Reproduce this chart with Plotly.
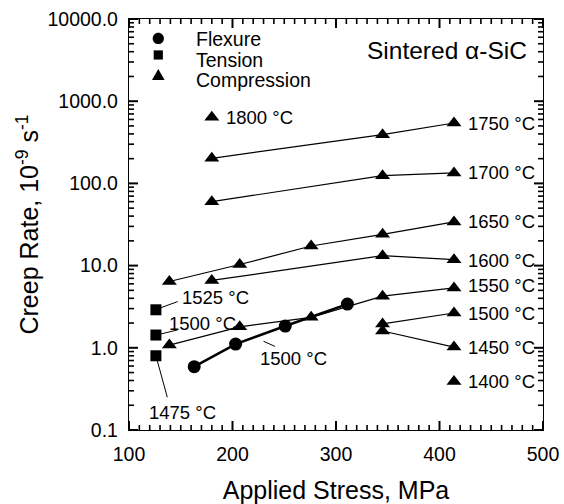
import math
import plotly.graph_objects as go

# ---------------- data ----------------
flex_x = [163, 203, 251, 311]
flex_y = [0.59, 1.11, 1.84, 3.4]

tension_x = [126, 126, 126]
tension_y = [2.9, 1.43, 0.8]
tension_labels = ["1525 °C", "1500 °C", "1475 °C"]

comp_temps = ["1800 °C", "1750 °C", "1700 °C", "1650 °C", "1600 °C",
              "1550 °C", "1500 °C", "1450 °C", "1400 °C"]
c1800_x, c1800_y = [180], [640]
c1750_x, c1750_y = [180, 345, 414], [202, 392, 543]
c1700_x, c1700_y = [180, 345, 414], [60, 124, 134]
c1650_x, c1650_y = [139, 207, 276, 345, 414], [6.4, 10.3, 17.3, 24, 34]
c1600_x, c1600_y = [180, 345, 414], [6.6, 13.2, 11.8]
c1550_x, c1550_y = [139, 207, 276, 345, 414], [1.08, 1.8, 2.35, 4.25, 5.35]
c1500_x, c1500_y = [345, 414], [1.95, 2.65]
c1450_x, c1450_y = [345, 414], [1.6, 1.02]
c1400_x, c1400_y = [414], [0.39]

y_tickvals = [0.1, 1, 10, 100, 1000, 10000]
y_ticktext = ["0.1", "1.0", "10.0", "100.0", "1000.0", "10000.0"]
x_tickvals = [100, 200, 300, 400, 500]
x_ticktext = ["100", "200", "300", "400", "500"]

legend_names = ["Flexure", "Tension", "Compression"]

FONT = "Liberation Sans, Arial, sans-serif"
BLACK = "black"
X_RANGE = [100, 500]
Y_RANGE_LOG = [-1, 4]

# minor tick positions (axis decoration)
x_minor = [v for v in range(100, 501, 10) if v % 100]
y_minor = [m * 10 ** e for e in range(-1, 4) for m in range(2, 10)]

fig = go.Figure()

comp_series = [
    (c1800_x, c1800_y), (c1750_x, c1750_y), (c1700_x, c1700_y),
    (c1650_x, c1650_y), (c1600_x, c1600_y), (c1550_x, c1550_y),
    (c1500_x, c1500_y), (c1450_x, c1450_y), (c1400_x, c1400_y),
]
for (xs, ys), name in zip(comp_series, comp_temps):
    fig.add_trace(go.Scatter(
        x=xs, y=ys, mode="lines+markers", name=name, showlegend=False,
        line=dict(color=BLACK, width=1.2),
        marker=dict(symbol="triangle-up", size=13, color=BLACK),
    ))

fig.add_trace(go.Scatter(
    x=flex_x, y=flex_y, mode="lines+markers", name="Flexure 1500 °C",
    showlegend=False, line=dict(color=BLACK, width=2.6),
    marker=dict(symbol="circle", size=13, color=BLACK),
))
fig.add_trace(go.Scatter(
    x=tension_x, y=tension_y, mode="markers", name="Tension",
    showlegend=False, marker=dict(symbol="square", size=11, color=BLACK),
))

ann = []
def label(text, x, y, size=18.5, xanchor="left"):
    ann.append(dict(text=text, x=x, y=math.log10(y), xref="x", yref="y",
                    showarrow=False, xanchor=xanchor, yanchor="middle",
                    font=dict(family=FONT, size=size, color=BLACK)))

# temperature labels for compression series
label(comp_temps[0], 192, 640)
right_y = [543, 134, 34, 11.5, 5.75, 2.65, 1.02, 0.39]
for t, yv in zip(comp_temps[1:], right_y):
    label(t, 426, yv)

# tension labels
label(tension_labels[0], 149, 4.1)
label(tension_labels[1], 137, 1.98)
label(tension_labels[2], 117.5, 0.165)
# flexure label
label("1500 °C", 225, 0.75)

# legend key text
leg_y_text = [5700, 3150, 1800]
for n, yv in zip(legend_names, leg_y_text):
    label(n, 163, yv, size=19.5)

label("Sintered α-SiC", 486.5, 4100, size=24.5, xanchor="right")

fig.update_layout(annotations=ann)

shapes = []
# legend key symbols (pixel-sized path shapes anchored in the plot)
key_x = 128.3
circle_path = ("M 5.6 0 C 5.6 3.1 3.1 5.6 0 5.6 C -3.1 5.6 -5.6 3.1 -5.6 0 "
               "C -5.6 -3.1 -3.1 -5.6 0 -5.6 C 3.1 -5.6 5.6 -3.1 5.6 0 Z")
square_path = "M -4.6 -4.6 L 4.6 -4.6 L 4.6 4.6 L -4.6 4.6 Z"
tri_path = "M -6.3 -4.5 L 6.3 -4.5 L 0 6.5 Z"
for pth, ya in [(circle_path, 5800), (square_path, 3650), (tri_path, 2050)]:
    shapes.append(dict(type="path", xref="x", yref="y", xsizemode="pixel",
                       ysizemode="pixel", xanchor=key_x, yanchor=ya, path=pth,
                       fillcolor=BLACK, line=dict(color=BLACK, width=0)))

# leader lines
leaders = [
    (128.5, 3.0, 147, 3.65),
    (128.5, 1.45, 147, 1.65),
    (127, 0.72, 137, 0.25),
    (230, 1.2, 241, 1.04),
]
for x0, y0, x1, y1 in leaders:
    shapes.append(dict(type="line", xref="x", yref="y", x0=x0, y0=y0, x1=x1, y1=y1,
                       line=dict(color=BLACK, width=1)))

# inward tick marks on all four sides (major and minor)
def xtick(v, length, width):
    for anchor, sign in [(0, 1), (1, -1)]:
        shapes.append(dict(type="line", xref="x", yref="paper", ysizemode="pixel",
                           yanchor=anchor, x0=v, x1=v, y0=0, y1=sign * length,
                           line=dict(color=BLACK, width=width)))

def ytick(v, length, width):
    for anchor, sign in [(0, 1), (1, -1)]:
        shapes.append(dict(type="line", xref="paper", yref="y", xsizemode="pixel",
                           xanchor=anchor, y0=v, y1=v, x0=0, x1=sign * length,
                           line=dict(color=BLACK, width=width)))

for v in x_tickvals:
    xtick(v, 9, 2)
for v in x_minor:
    xtick(v, 5, 1.6)
for v in y_tickvals:
    ytick(v, 9, 2)
for v in y_minor:
    ytick(v, 5, 1.6)

fig.update_layout(shapes=shapes)

tickfont = dict(family=FONT, size=19.5, color=BLACK)

fig.update_layout(
    xaxis=dict(
        range=X_RANGE, tickmode="array", tickvals=x_tickvals, ticktext=x_ticktext,
        showline=True, linecolor=BLACK, linewidth=1.3, mirror=True,
        ticks="", showgrid=False, zeroline=False, automargin=False,
        tickfont=tickfont, ticklabelstandoff=6,
        title=dict(text="Applied Stress, MPa",
                   font=dict(family=FONT, size=25, color=BLACK), standoff=20),
    ),
    yaxis=dict(
        type="log", range=Y_RANGE_LOG, tickmode="array", tickvals=y_tickvals,
        ticktext=y_ticktext,
        showline=True, linecolor=BLACK, linewidth=1.3, mirror=True,
        ticks="", showgrid=False, zeroline=False, automargin=False,
        tickfont=tickfont, ticklabelstandoff=6,
        title=dict(text="Creep Rate, 10<sup>-9</sup> s<sup>-1</sup>",
                   font=dict(family=FONT, size=25, color=BLACK), standoff=1),
    ),
    width=564, height=504,
    margin=dict(l=129, r=21, t=19, b=74, autoexpand=False),
    paper_bgcolor="white", plot_bgcolor="white",
    font=dict(family=FONT, color=BLACK),
    showlegend=False,
)

fig.write_html("out.html")
